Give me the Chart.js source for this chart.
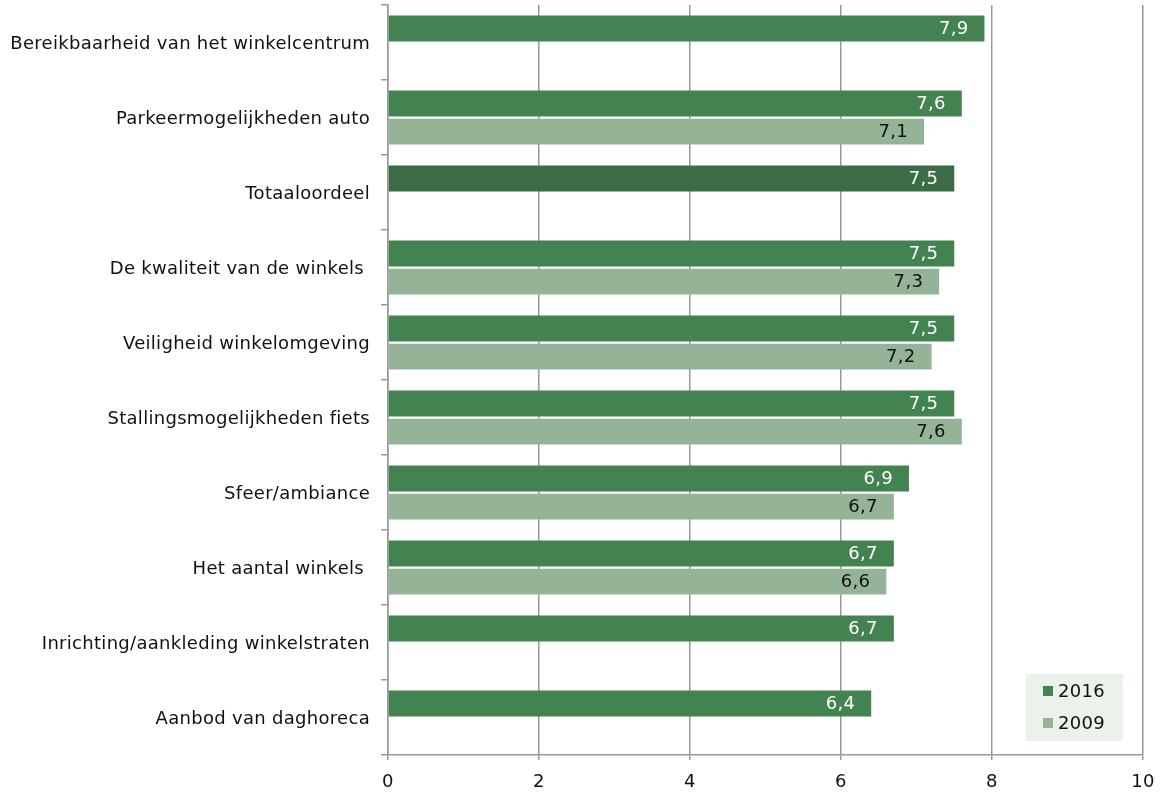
<!DOCTYPE html>
<html lang="nl">
<head>
    <meta charset="UTF-8">
    <title>Oordeel winkelcentrum</title>
    <script src="https://cdn.jsdelivr.net/npm/chart.js"></script>
    <style>
        body {
            margin: 0;
            padding: 0;
            background: #fff;
        }
        #wrap {
            width: 1162px;
            height: 792px;
        }
    </style>
</head>
<body>
    <div id="wrap"><canvas id="ratingChart"></canvas></div>

    <script>
        const categories = [
            'Bereikbaarheid van het winkelcentrum',
            'Parkeermogelijkheden auto',
            'Totaaloordeel',
            'De kwaliteit van de winkels ',
            'Veiligheid winkelomgeving',
            'Stallingsmogelijkheden fiets',
            'Sfeer/ambiance',
            'Het aantal winkels ',
            'Inrichting/aankleding winkelstraten',
            'Aanbod van daghoreca'
        ];
        const values2016 = [7.9, 7.6, 7.5, 7.5, 7.5, 7.5, 6.9, 6.7, 6.7, 6.4];
        const values2009 = [null, 7.1, null, 7.3, 7.2, 7.6, 6.7, 6.6, null, null];
        const xTicks = [0, 2, 4, 6, 8, 10];

        const GREEN = '#438351';
        const DARK_GREEN = '#3b6c47';
        const LIGHT_GREEN = '#95b396';
        const FONT = 'DejaVu Sans, Verdana, sans-serif';
        const FONT_SIZE = 18;

        const colors2016 = categories.map(c => c === 'Totaaloordeel' ? DARK_GREEN : GREEN);

        // DejaVu is a bit narrower than Verdana, widen it slightly
        const spacing = {
            id: 'spacing',
            beforeDraw(chart) {
                chart.ctx.letterSpacing = '0.3px';
            }
        };

        // labels at the inner end of each bar
        const barLabels = {
            id: 'barLabels',
            afterDatasetsDraw(chart) {
                const ctx = chart.ctx;
                ctx.save();
                ctx.font = FONT_SIZE + 'px ' + FONT;
                ctx.textAlign = 'right';
                ctx.textBaseline = 'middle';
                chart.data.datasets.forEach((ds, i) => {
                    const meta = chart.getDatasetMeta(i);
                    meta.data.forEach((bar, j) => {
                        const v = ds.data[j];
                        if (v == null) return;
                        ctx.fillStyle = i === 0 ? '#ffffff' : '#111111';
                        ctx.fillText(v.toFixed(1).replace('.', ','), bar.x - 16, bar.y + 1);
                    });
                });
                ctx.restore();
            }
        };

        // legend box in the lower right corner of the plot
        const cornerLegend = {
            id: 'cornerLegend',
            afterDraw(chart) {
                const ctx = chart.ctx;
                const a = chart.chartArea;
                const left = a.right - 117;
                const top = a.bottom - 81;
                ctx.save();
                ctx.fillStyle = '#ebf1eb';
                ctx.fillRect(left, top, 97, 67);
                ctx.font = FONT_SIZE + 'px ' + FONT;
                ctx.textBaseline = 'middle';
                chart.data.datasets.forEach((ds, i) => {
                    const y = top + 17 + i * 32;
                    ctx.fillStyle = ds.legendColor;
                    ctx.fillRect(left + 17, y - 5, 10, 10);
                    ctx.fillStyle = '#111111';
                    ctx.fillText(ds.label, left + 32, y + 1);
                });
                ctx.restore();
            }
        };

        new Chart(document.getElementById('ratingChart'), {
            type: 'bar',
            data: {
                labels: categories,
                datasets: [
                    {
                        label: '2016',
                        data: values2016,
                        backgroundColor: colors2016,
                        legendColor: GREEN,
                        borderWidth: 0,
                        categoryPercentage: 0.75,
                        barPercentage: 0.92
                    },
                    {
                        label: '2009',
                        data: values2009,
                        backgroundColor: LIGHT_GREEN,
                        legendColor: LIGHT_GREEN,
                        borderWidth: 0,
                        categoryPercentage: 0.75,
                        barPercentage: 0.92
                    }
                ]
            },
            options: {
                indexAxis: 'y',
                responsive: true,
                maintainAspectRatio: false,
                animation: false,
                layout: {
                    padding: { top: 5, right: 19, left: 0, bottom: 0 }
                },
                plugins: {
                    legend: { display: false },
                    tooltip: { enabled: false }
                },
                scales: {
                    x: {
                        min: 0,
                        max: 10,
                        afterBuildTicks(scale) {
                            scale.ticks = xTicks.map(v => ({ value: v }));
                        },
                        afterFit(scale) {
                            scale.height = 37;
                            scale.paddingLeft = 0;
                            scale.paddingRight = 0;
                        },
                        ticks: {
                            color: '#111111',
                            font: { family: FONT, size: FONT_SIZE },
                            padding: 12
                        },
                        grid: {
                            color: '#989898',
                            lineWidth: 1.5,
                            tickLength: 5
                        },
                        border: { color: '#989898', width: 1.5 }
                    },
                    y: {
                        afterFit(scale) {
                            scale.width = 388;
                            scale.paddingTop = 0;
                            scale.paddingBottom = 0;
                        },
                        ticks: {
                            color: '#111111',
                            font: { family: FONT, size: FONT_SIZE },
                            padding: 11,
                            labelOffset: 2
                        },
                        grid: {
                            offset: true,
                            drawOnChartArea: false,
                            color: '#989898',
                            lineWidth: 1.5,
                            tickLength: 7
                        },
                        border: { color: '#989898', width: 1.5 }
                    }
                }
            },
            plugins: [spacing, barLabels, cornerLegend]
        });
    </script>
</body>
</html>
